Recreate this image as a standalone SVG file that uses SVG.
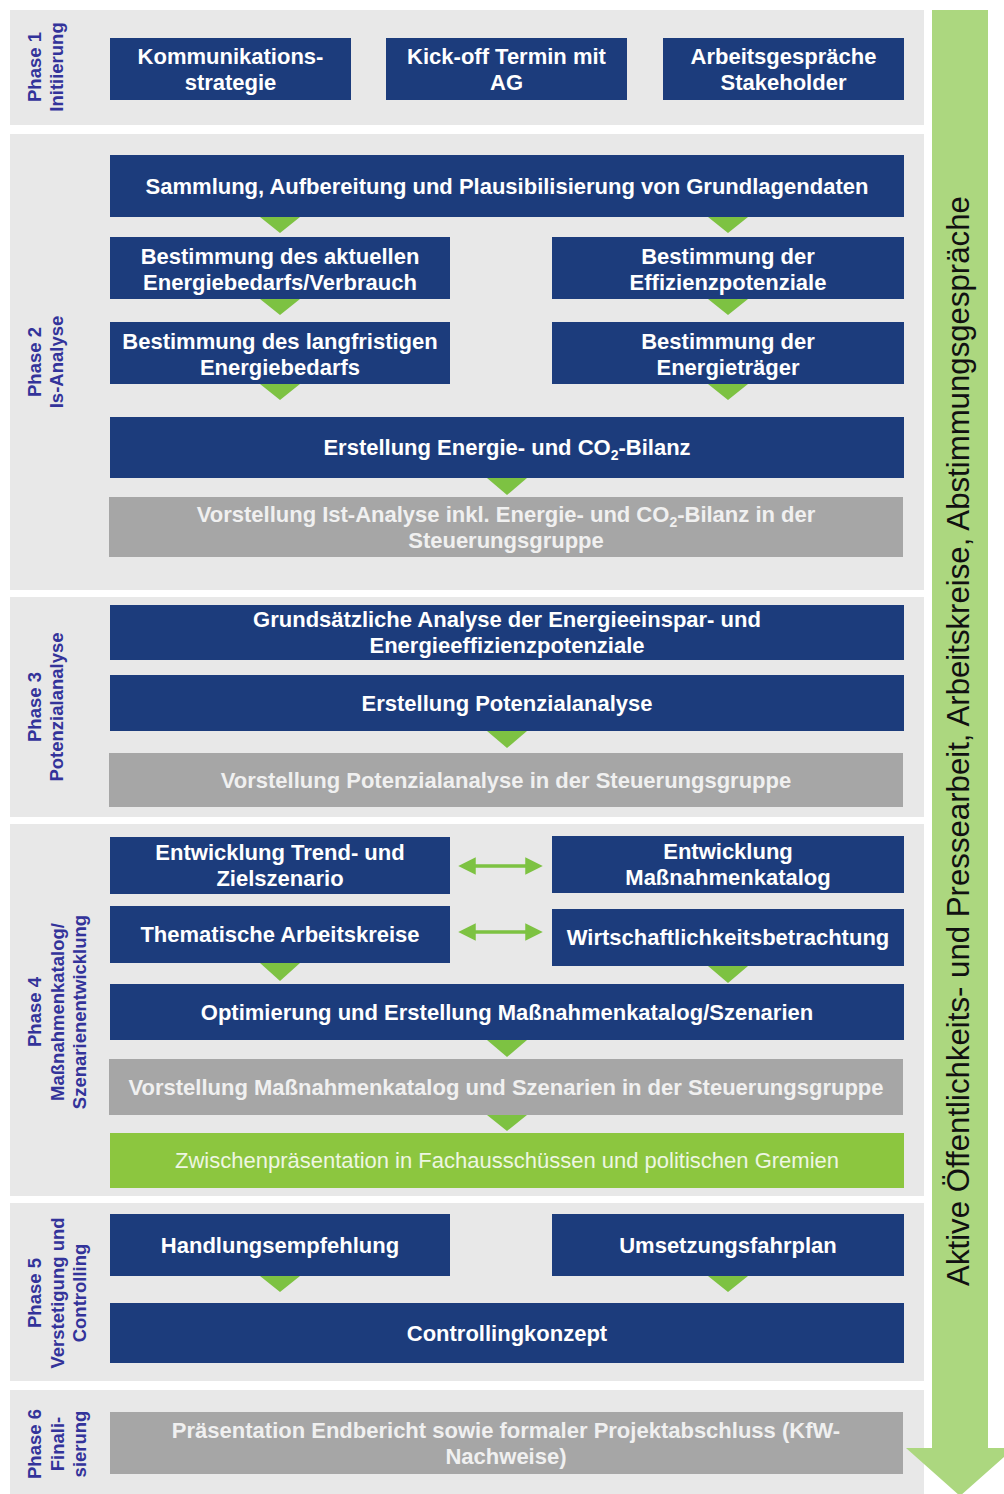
<svg xmlns="http://www.w3.org/2000/svg" width="1004" height="1494" viewBox="0 0 1004 1494">
<style>
.panel{fill:#e8e8e8}
.blue{fill:#1c3c7c}
.gray{fill:#a6a6a6}
.green{fill:#8cc63f}
.t{font-family:"Liberation Sans",Arial,sans-serif;font-size:22px;font-weight:bold;fill:#ffffff;text-anchor:middle}
.tg{font-family:"Liberation Sans",Arial,sans-serif;font-size:22px;font-weight:bold;fill:#f0f0f0;text-anchor:middle}
.tz{font-family:"Liberation Sans",Arial,sans-serif;font-size:22px;fill:#eef6e2;text-anchor:middle}
.ph{font-family:"Liberation Sans",Arial,sans-serif;font-size:18.5px;font-weight:bold;fill:#33339a;text-anchor:middle}
.big{font-family:"Liberation Sans",Arial,sans-serif;font-size:31.2px;fill:#111111;text-anchor:middle}
.tri{fill:#7dc242}
.dbl{stroke:#7dc242;stroke-width:3.5;fill:none}
.sub{font-size:14px}
</style>
<defs>
<marker id="ah" markerWidth="5" markerHeight="5" refX="2.5" refY="2.5" orient="auto-start-reverse" markerUnits="strokeWidth">
<path d="M0,0 L5,2.5 L0,5 Z" fill="#7dc242"/>
</marker>
</defs>
<rect width="1004" height="1494" fill="#ffffff"/>

<g id="phase1">
<rect class="panel" x="10" y="10" width="914" height="115"/>
<text class="ph" transform="translate(41,67) rotate(-90)"><tspan x="0" y="0">Phase 1</tspan><tspan x="0" dy="22">Initiierung</tspan></text>
</g>
<g id="phase2">
<rect class="panel" x="10" y="134" width="914" height="456"/>
<text class="ph" transform="translate(41,362) rotate(-90)"><tspan x="0" y="0">Phase 2</tspan><tspan x="0" dy="22">Is-Analyse</tspan></text>
</g>
<g id="phase3">
<rect class="panel" x="10" y="597" width="914" height="220"/>
<text class="ph" transform="translate(41,707) rotate(-90)"><tspan x="0" y="0">Phase 3</tspan><tspan x="0" dy="22">Potenzialanalyse</tspan></text>
</g>
<g id="phase4">
<rect class="panel" x="10" y="824" width="914" height="372"/>
<text class="ph" transform="translate(41,1012) rotate(-90)"><tspan x="0" y="0">Phase 4</tspan><tspan x="0" dy="22.5">Maßnahmenkatalog/</tspan><tspan x="0" dy="22.5">Szenarienentwicklung</tspan></text>
</g>
<g id="phase5">
<rect class="panel" x="10" y="1203" width="914" height="178"/>
<text class="ph" transform="translate(41,1293) rotate(-90)"><tspan x="0" y="0">Phase 5</tspan><tspan x="0" dy="22.5">Verstetigung und</tspan><tspan x="0" dy="22.5">Controlling</tspan></text>
</g>
<g id="phase6">
<rect class="panel" x="10" y="1390" width="914" height="104"/>
<text class="ph" transform="translate(41,1444) rotate(-90)"><tspan x="0" y="0">Phase 6</tspan><tspan x="0" dy="22.5">Finali-</tspan><tspan x="0" dy="22.5">sierung</tspan></text>
</g>

<g id="big-arrow">
<polygon points="932,10 988,10 988,1448 1014,1448 960,1496 906,1448 932,1448" fill="#acd77f"/>
<text class="big" transform="translate(969,741) rotate(-90)">Aktive Öffentlichkeits- und Pressearbeit, Arbeitskreise, Abstimmungsgespräche</text>
</g>

<g id="kommunikation"><rect class="blue" x="110" y="38" width="241" height="62"/><text class="t" x="230.5" y="63.5">Kommunikations-</text><text class="t" x="230.5" y="89.5">strategie</text></g>
<g id="kickoff"><rect class="blue" x="386" y="38" width="241" height="62"/><text class="t" x="506.5" y="63.5">Kick-off Termin mit</text><text class="t" x="506.5" y="89.5">AG</text></g>
<g id="arbeitsgespraeche"><rect class="blue" x="663" y="38" width="241" height="62"/><text class="t" x="783.5" y="63.5">Arbeitsgespräche</text><text class="t" x="783.5" y="89.5">Stakeholder</text></g>

<g id="sammlung"><rect class="blue" x="110" y="155" width="794" height="62"/><text class="t" x="507" y="193.5">Sammlung, Aufbereitung und Plausibilisierung von Grundlagendaten</text></g>
<g id="bedarf-aktuell"><rect class="blue" x="110" y="237" width="340" height="62"/><text class="t" x="280" y="263.5">Bestimmung des aktuellen</text><text class="t" x="280" y="289.5">Energiebedarfs/Verbrauch</text></g>
<g id="effizienz"><rect class="blue" x="552" y="237" width="352" height="62"/><text class="t" x="728" y="263.5">Bestimmung der</text><text class="t" x="728" y="289.5">Effizienzpotenziale</text></g>
<g id="bedarf-langfristig"><rect class="blue" x="110" y="322" width="340" height="62"/><text class="t" x="280" y="348.5">Bestimmung des langfristigen</text><text class="t" x="280" y="374.5">Energiebedarfs</text></g>
<g id="energietraeger"><rect class="blue" x="552" y="322" width="352" height="62"/><text class="t" x="728" y="348.5">Bestimmung der</text><text class="t" x="728" y="374.5">Energieträger</text></g>
<g id="bilanz"><rect class="blue" x="110" y="417" width="794" height="61"/><text class="t" x="507" y="455">Erstellung Energie- und CO<tspan class="sub" dy="5">2</tspan><tspan dy="-5">-Bilanz</tspan></text></g>
<g id="vorstellung-ist"><rect class="gray" x="109" y="497" width="794" height="60"/><text class="tg" x="506" y="521.5">Vorstellung Ist-Analyse inkl. Energie- und CO<tspan class="sub" dy="5">2</tspan><tspan dy="-5">-Bilanz in der</tspan></text><text class="tg" x="506" y="547.5">Steuerungsgruppe</text></g>

<g id="grundsaetzlich"><rect class="blue" x="110" y="605" width="794" height="55"/><text class="t" x="507" y="626.5">Grundsätzliche Analyse der Energieeinspar- und</text><text class="t" x="507" y="652.5">Energieeffizienzpotenziale</text></g>
<g id="potenzialanalyse"><rect class="blue" x="110" y="675" width="794" height="56"/><text class="t" x="507" y="710.5">Erstellung Potenzialanalyse</text></g>
<g id="vorstellung-potenzial"><rect class="gray" x="109" y="753" width="794" height="54"/><text class="tg" x="506" y="787.5">Vorstellung Potenzialanalyse in der Steuerungsgruppe</text></g>

<g id="trend"><rect class="blue" x="110" y="837" width="340" height="57"/><text class="t" x="280" y="860">Entwicklung Trend- und</text><text class="t" x="280" y="886">Zielszenario</text></g>
<g id="massnahmenkatalog"><rect class="blue" x="552" y="836" width="352" height="57"/><text class="t" x="728" y="859">Entwicklung</text><text class="t" x="728" y="885">Maßnahmenkatalog</text></g>
<g id="arbeitskreise"><rect class="blue" x="110" y="906" width="340" height="57"/><text class="t" x="280" y="942">Thematische Arbeitskreise</text></g>
<g id="wirtschaftlichkeit"><rect class="blue" x="552" y="909" width="352" height="57"/><text class="t" x="728" y="945">Wirtschaftlichkeitsbetrachtung</text></g>
<g id="optimierung"><rect class="blue" x="110" y="984" width="794" height="56"/><text class="t" x="507" y="1019.5">Optimierung und Erstellung Maßnahmenkatalog/Szenarien</text></g>
<g id="vorstellung-massnahmen"><rect class="gray" x="109" y="1059" width="794" height="56"/><text class="tg" x="506" y="1094.5">Vorstellung Maßnahmenkatalog und Szenarien in der Steuerungsgruppe</text></g>
<g id="zwischenpraesentation"><rect class="green" x="110" y="1133" width="794" height="55"/><text class="tz" x="507" y="1168">Zwischenpräsentation in Fachausschüssen und politischen Gremien</text></g>

<g id="handlungsempfehlung"><rect class="blue" x="110" y="1214" width="340" height="62"/><text class="t" x="280" y="1252.5">Handlungsempfehlung</text></g>
<g id="umsetzungsfahrplan"><rect class="blue" x="552" y="1214" width="352" height="62"/><text class="t" x="728" y="1252.5">Umsetzungsfahrplan</text></g>
<g id="controllingkonzept"><rect class="blue" x="110" y="1303" width="794" height="60"/><text class="t" x="507" y="1340.5">Controllingkonzept</text></g>

<g id="praesentation"><rect class="gray" x="110" y="1412" width="793" height="62"/><text class="tg" x="506" y="1437.5">Präsentation Endbericht sowie formaler Projektabschluss (KfW-</text><text class="tg" x="506" y="1463.5">Nachweise)</text></g>

<g id="connectors">
<polygon class="tri" points="260,217 300,217 280,233"/>
<polygon class="tri" points="708,217 748,217 728,233"/>
<polygon class="tri" points="260,299 300,299 280,315"/>
<polygon class="tri" points="708,299 748,299 728,315"/>
<polygon class="tri" points="260,384 300,384 280,400"/>
<polygon class="tri" points="708,384 748,384 728,400"/>
<polygon class="tri" points="487,478 527,478 507,495"/>
<polygon class="tri" points="487,731 527,731 507,748"/>
<polygon class="tri" points="260,963 300,963 280,981"/>
<polygon class="tri" points="708,966 748,966 728,983"/>
<polygon class="tri" points="487,1040 527,1040 507,1057"/>
<polygon class="tri" points="487,1115 527,1115 507,1131"/>
<polygon class="tri" points="260,1276 300,1276 280,1292"/>
<polygon class="tri" points="708,1276 748,1276 728,1292"/>
<line class="dbl" x1="467" y1="866" x2="534" y2="866" marker-start="url(#ah)" marker-end="url(#ah)"/>
<line class="dbl" x1="467" y1="932" x2="534" y2="932" marker-start="url(#ah)" marker-end="url(#ah)"/>
</g>
</svg>
